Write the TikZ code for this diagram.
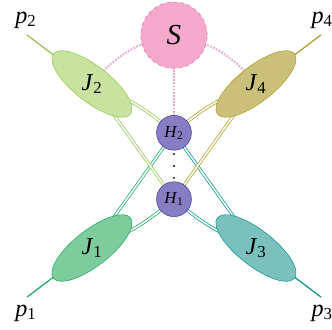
\documentclass[tikz,border=0pt]{standalone}
\usepackage{fontspec}
\setmainfont{Liberation Serif}
\definecolor{jonefill}{RGB}{125,204,155}
\definecolor{jonedraw}{RGB}{20,165,95}
\definecolor{jtwofill}{RGB}{200,226,160}
\definecolor{jtwodraw}{RGB}{140,196,70}
\definecolor{jthreefill}{RGB}{122,192,188}
\definecolor{jthreedraw}{RGB}{0,142,140}
\definecolor{jfourfill}{RGB}{202,192,122}
\definecolor{jfourdraw}{RGB}{172,155,30}
\definecolor{sfill}{RGB}{245,170,205}
\definecolor{sdraw}{RGB}{232,95,165}
\definecolor{spink}{RGB}{242,162,208}
\definecolor{hfill}{RGB}{135,125,195}
\definecolor{hdraw}{RGB}{60,50,150}
\usepackage{tikz}
\usetikzlibrary{shapes.geometric,backgrounds}
\newcommand{\lab}[2]{\textit{#1}\textsubscript{#2}}

\begin{document}
\begin{tikzpicture}[
  jet/.style={draw,thin,ellipse,inner sep=0pt,minimum width=2.95cm,
              minimum height=1.08cm},
  higgs/.style={draw=hdraw,fill=hfill,thin,circle,inner sep=0pt,
                minimum size=1.05cm,font=\Large},
  link/.style={line width=0.6pt,double=white,double distance=1.4pt},
  leg/.style={line width=1pt},
  soft/.style={draw=spink,line width=1.6pt,dash pattern=on 1.5pt off 1.2pt}]
  \useasboundingbox (-5.24,-4.91) rectangle (4.76,5.0);
  % blobs
  \node[jet,draw=jonedraw,fill=jonefill,rotate=38] (J1) at (-2.47,-2.47) {};
  \node[jet,draw=jtwodraw,fill=jtwofill,rotate=-38] (J2) at (-2.47,2.47) {};
  \node[jet,draw=jthreedraw,fill=jthreefill,rotate=-38] (J3) at (2.47,-2.47) {};
  \node[jet,draw=jfourdraw,fill=jfourfill,rotate=38] (J4) at (2.47,2.47) {};
  \node[font=\huge] (J1lab) at (J1) {\lab{J}{1}};
  \node[font=\huge] (J2lab) at (J2) {\lab{J}{2}};
  \node[font=\huge] (J3lab) at (J3) {\lab{J}{3}};
  \node[font=\huge] (J4lab) at (J4) {\lab{J}{4}};
  \node[higgs] (H1) at (0,-1.0) {\lab{H}{1}};
  \node[higgs] (H2) at (0,1.0) {\lab{H}{2}};
  \node[circle,draw=sdraw,fill=sfill,thin,dashed,minimum size=2cm,
        font=\Huge] (S) at (0,3.94) {\textit{S}};
  \foreach \y in {-0.36,0,0.36}
    \fill (0,\y) circle (0.9pt);
  % outgoing momenta
  \coordinate (p1end) at (-4.43,-3.95);
  \coordinate (p2end) at (-4.43,3.95);
  \coordinate (p3end) at (4.43,-3.95);
  \coordinate (p4end) at (4.43,3.95);
  \node[font=\huge] (p1) at (-4.46,-4.43) {\lab{p}{1}};
  \node[font=\huge] (p2) at (-4.46,4.40) {\lab{p}{2}};
  \node[font=\huge] (p3) at (4.46,-4.43) {\lab{p}{3}};
  \node[font=\huge] (p4) at (4.46,4.40) {\lab{p}{4}};
  \begin{scope}[on background layer]
    \draw[leg,jonedraw] (J1.center) -- (p1end);
    \draw[leg,jtwodraw] (J2.center) -- (p2end);
    \draw[leg,jthreedraw] (J3.center) -- (p3end);
    \draw[leg,jfourdraw] (J4.center) -- (p4end);
    \draw[link,jonedraw] (J1.center) -- (H2.center);
    \draw[link,jonedraw] (J1.center) to[bend right=10] (H1.center);
    \draw[link,jthreedraw] (J3.center) -- (H2.center);
    \draw[link,jthreedraw] (J3.center) to[bend left=10] (H1.center);
    \draw[link,jtwodraw] (J2.center) -- (H1.center);
    \draw[link,jtwodraw] (J2.center) to[bend left=10] (H2.center);
    \draw[link,jfourdraw] (J4.center) -- (H1.center);
    \draw[link,jfourdraw] (J4.center) to[bend right=10] (H2.center);
    \draw[soft] (S.center) to[bend right=20] (J2.center);
    \draw[soft] (S.center) to[bend left=20] (J4.center);
    \draw[soft] (S.center) -- (H2.center);
  \end{scope}
\end{tikzpicture}
\end{document}
